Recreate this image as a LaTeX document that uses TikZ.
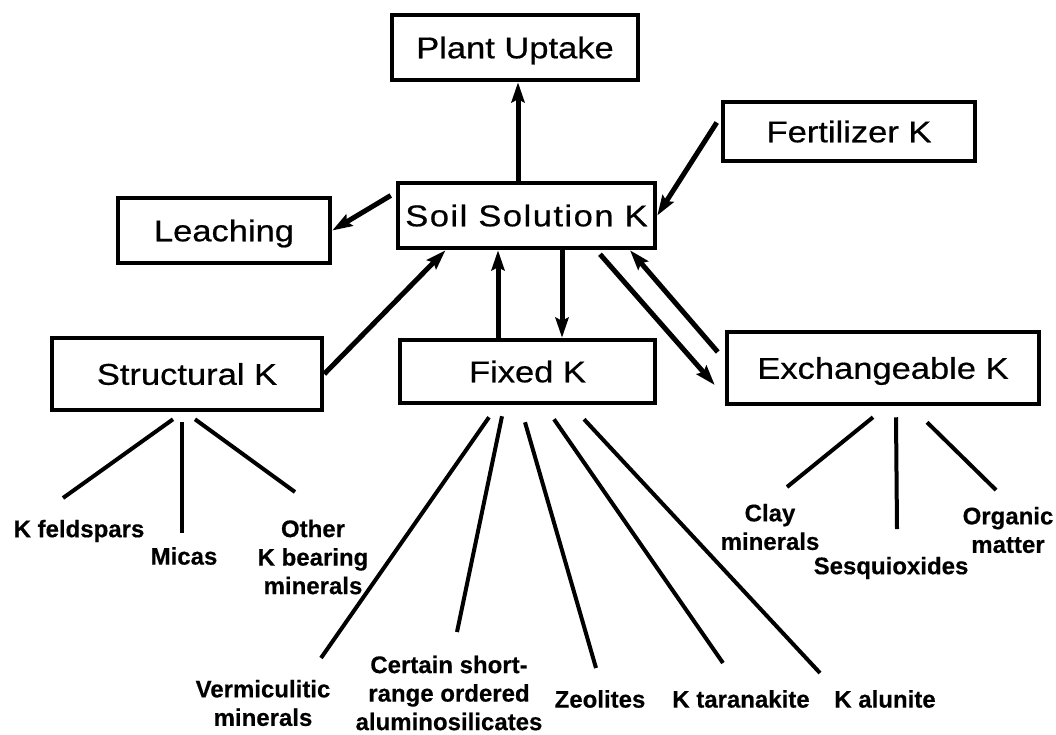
\documentclass[tikz,border=0pt]{standalone}
\usepackage{fontspec}
\setmainfont{Liberation Sans}
\newfontfamily\boxfont[FakeStretch=1.15,FakeBold=0.6]{Liberation Sans}
\newfontfamily\labfont[FakeBold=0.4]{Liberation Sans Bold}
\usetikzlibrary{arrows.meta}
\begin{document}
\begin{tikzpicture}[x=1pt,y=-1pt,
  box/.style={draw,line width=4.5pt,inner sep=0pt,text height=21.5pt,text depth=0pt,
    font=\boxfont\fontsize{30}{34}\selectfont},
  lab/.style={font=\labfont\fontsize{24}{28.5}\selectfont,align=center,inner sep=0pt},
  arr/.style={line width=5pt,-{Stealth[length=20pt,width=13pt,inset=3pt]}},
  br/.style={line width=4pt}]
\fill[white] (0,0) rectangle (1056,734);
\useasboundingbox (0,0) rectangle (1056,734);
% boxes
\node[box,minimum width=246pt,minimum height=65pt] (pu) at (515,47.5) {Plant Uptake};
\node[box,minimum width=252pt,minimum height=59pt] (fert) at (849,131.5) {Fertilizer K};
\node[box,minimum width=257pt,minimum height=65pt] (soil) at (526.5,215.5) {\addfontfeature{LetterSpace=5}Soil Solution K};
\node[box,minimum width=212pt,minimum height=65pt] (leach) at (224,230.5) {Leaching};
\node[box,minimum width=270pt,minimum height=72pt] (struct) at (187,374) {Structural K};
\node[box,minimum width=255pt,minimum height=63pt] (fixed) at (527.5,371.5) {Fixed K};
\node[box,minimum width=312pt,minimum height=72pt] (exch) at (883,368) {Exchangeable K};
% arrows
\draw[arr] ([xshift=-8.5pt]soil.north) -- ([xshift=-8.5pt]soil.north |- pu.south);
\draw[arr] ([xshift=-4pt,yshift=9pt]fert.west) -- (soil.east);
\draw[arr] ([xshift=-5pt,yshift=20pt]soil.west) -- (leach.east);
\draw[arr] (struct.east) -- ([xshift=-81pt]soil.south);
\draw[arr] ([xshift=-29.5pt]fixed.north) -- ([xshift=-29.5pt]fixed.north |- soil.south);
\draw[arr] ([xshift=35.5pt]soil.south) -- ([xshift=35.5pt]soil.south |- fixed.north);
\draw[arr] ([xshift=73.5pt,yshift=-4pt]soil.south) -- ([xshift=-10pt,yshift=-17pt]exch.west);
\draw[arr] ([xshift=-7pt,yshift=16pt]exch.west) -- ([xshift=103.5pt]soil.south);
% labels
\node[lab] (kf) at (79,531) {K feldspars};
\node[lab] (mic) at (184,556) {Micas};
\node[lab] (oth) at (313,557) {Other\\K bearing\\minerals};
\node[lab] (verm) at (263,703) {Vermiculitic\\minerals};
\node[lab] (cert) at (449,693) {Certain short-\\range ordered\\aluminosilicates};
\node[lab] (zeo) at (600,699) {Zeolites};
\node[lab] (kt) at (741,699) {K taranakite};
\node[lab] (kal) at (885,699) {K alunite};
\node[lab] (clay) at (770,527) {Clay\\minerals};
\node[lab] (sesq) at (891,568) {Sesquioxides};
\node[lab] (org) at (1008,530) {Organic\\matter};
% branch ends
\coordinate (kfE) at (63,498);
\coordinate (micE) at (182,533);
\coordinate (othE) at (295,492);
\coordinate (vermE) at (321,658);
\coordinate (certE) at (457,632);
\coordinate (zeoE) at (596,668);
\coordinate (ktE) at (723,663);
\coordinate (kalE) at (820,673);
\coordinate (clayE) at (787,487);
\coordinate (sesqE) at (897,529);
\coordinate (orgE) at (996,490);
% branches
\draw[br] ([shift={(-14,7)}]struct.south) -- (kfE);
\draw[br] ([shift={(-5,10)}]struct.south) -- (micE);
\draw[br] ([shift={(8,7)}]struct.south) -- (othE);
\draw[br] ([shift={(-38.5,12)}]fixed.south) -- (vermE);
\draw[br] ([shift={(-25.5,11)}]fixed.south) -- (certE);
\draw[br] ([shift={(-2.5,17)}]fixed.south) -- (zeoE);
\draw[br] ([shift={(26.5,14)}]fixed.south) -- (ktE);
\draw[br] ([shift={(56.5,14)}]fixed.south) -- (kalE);
\draw[br] ([shift={(-10,11)}]exch.south) -- (clayE);
\draw[br] ([shift={(13,11)}]exch.south) -- (sesqE);
\draw[br] ([shift={(44,16)}]exch.south) -- (orgE);
\end{tikzpicture}
\end{document}
